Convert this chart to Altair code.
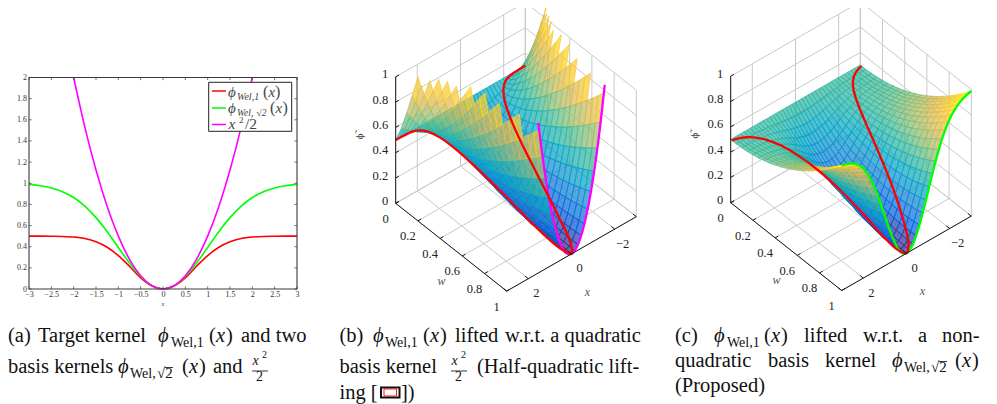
import altair as alt
import pandas as pd

alt.data_transformers.disable_max_rows()

N = None
# ---- panel (a) curves, x >= 0 half (symmetric about 0)
A_X = [0, .25, .5, .75, 1, 1.25, 1.5, 1.75, 2, 2.25, 2.5, 2.75, 3]
PHI_1 = [0, .030, .106, .215, .316, .395, .447, .477, .491, .497, .499, .5, .5]
PHI_R2 = [0, .031, .118, .245, .393, .542, .675, .784, .865, .920, .956, .977, .989]
QUAD = [0, .031, .125, .281, .5, .781, 1.125, 1.531, 2.0]
A_XTICKS = [-3, -2.5, -2, -1.5, -1, -.5, 0, .5, 1, 1.5, 2, 2.5, 3]
A_YTICKS = [0, .2, .4, .6, .8, 1, 1.2, 1.4, 1.6, 1.8, 2]

# ---- lifted curves: w along the red curves
RED_W_B = [1, .939, .779, .570, .368, .210, .105, .047, .018, .006, .002, .001, 0]
RED_W_C = [1, .969, .882, .755, .607, .458, .325, .216, .135, .080, .044, .023, .011]
PINK_X = [0, .25, .5, .75, 1, 1.25, 1.54]
PINK_Z = [0, .031, .125, .281, .5, .781, 1.186]

# ---- surfaces: columns x = 0 .. 3 (mirrored for negative x), rows w = 0 .. 1
S_X = [0, .15, .3, .45, .6, .75, .9, 1.05, 1.2, 1.35, 1.5, 1.65, 1.8, 1.95, 2.1, 2.25, 2.4, 2.55, 2.7, 2.85, 3]
S_W = [0, .05, .1, .15, .2, .25, .3, .35, .4, .45, .5, .55, .6, .65, .7, .75, .8, .85, .9, .95, 1]
Z_B = [
    [.5] * 21,
    [.400,.401,.402,.405,.409,.414,.420,.428,.436,.446,.456,.468,.481,.495,.510,.527,.544,.563,.582,.603,.625],
    [.335,.336,.340,.345,.353,.363,.376,.390,.407,.426,.448,.471,.497,.525,.556,.588,.623,.660,.700,.741,.785],
    [.283,.285,.290,.298,.310,.325,.344,.366,.391,.420,.452,.487,.526,.568,.614,.663,.715,.771,.830,.892,.958],
    [.239,.241,.248,.259,.275,.295,.320,.349,.383,.421,.464,.511,.563,.619,.680,.745,.815,.889,.968,1.051,1.139],
    [.202,.205,.213,.227,.247,.272,.303,.340,.382,.430,.483,.542,.607,.677,.753,.835,.922,1.015,1.113,N,N],
    [.169,.172,.183,.199,.223,.253,.291,.334,.385,.442,.507,.577,.655,.739,.831,.928,1.033,1.144,N,N,N],
    [.141,.145,.157,.176,.204,.239,.283,.334,.393,.460,.535,.617,.708,.806,.913,1.027,1.149,N,N,N,N],
    [.117,.121,.135,.157,.189,.229,.279,.337,.405,.481,.567,.661,.765,.877,.999,1.129,N,N,N,N,N],
    [.095,.100,.115,.140,.176,.221,.277,.343,.419,.505,.601,.707,.824,.950,1.087,N,N,N,N,N,N],
    [.077,.083,.100,.128,.167,.218,.280,.353,.437,.533,.640,.758,.887,1.028,1.180,N,N,N,N,N,N],
    [.061,.067,.086,.117,.160,.216,.284,.364,.457,.562,.680,.810,.952,1.107,N,N,N,N,N,N,N],
    [.047,.054,.074,.108,.155,.216,.290,.378,.479,.594,.722,.864,1.019,1.188,N,N,N,N,N,N,N],
    [.035,.042,.064,.101,.152,.218,.298,.393,.503,.627,.766,.920,1.088,N,N,N,N,N,N,N,N],
    [.025,.033,.057,.096,.151,.222,.309,.411,.529,.663,.813,.978,1.159,N,N,N,N,N,N,N,N],
    [.017,.025,.051,.093,.152,.228,.321,.430,.557,.700,.861,1.038,N,N,N,N,N,N,N,N,N],
    [.011,.020,.047,.092,.155,.236,.335,.452,.587,.740,.911,1.100,N,N,N,N,N,N,N,N,N],
    [.006,.015,.044,.092,.159,.245,.350,.474,.618,.780,.962,1.163,N,N,N,N,N,N,N,N,N],
    [.003,.013,.044,.094,.165,.256,.368,.499,.651,.823,1.016,N,N,N,N,N,N,N,N,N,N],
    [.001,.011,.044,.097,.172,.268,.386,.524,.685,.866,1.070,N,N,N,N,N,N,N,N,N,N],
    [0,.011,.045,.101,.180,.281,.405,.551,.720,.911,1.125,N,N,N,N,N,N,N,N,N,N],
]
Z_C = [
    [.5] * 21,
    [.451,.452,.453,.456,.459,.463,.468,.472,.477,.481,.485,.488,.491,.494,.496,.497,.498,.499,.500,.500,.500],
    [.405,.406,.409,.415,.422,.430,.438,.447,.456,.465,.473,.479,.485,.490,.494,.497,.499,.501,.502,.503,.504],
    [.361,.363,.368,.375,.386,.398,.411,.425,.438,.451,.462,.473,.481,.489,.495,.499,.503,.505,.507,.508,.509],
    [.320,.322,.329,.339,.353,.369,.387,.405,.423,.440,.455,.469,.480,.490,.498,.504,.509,.512,.515,.517,.518],
    [.281,.284,.292,.305,.322,.342,.364,.387,.409,.431,.450,.467,.482,.494,.504,.511,.517,.521,.525,.527,.528],
    [.245,.248,.258,.274,.295,.319,.345,.372,.399,.424,.448,.468,.486,.500,.512,.521,.528,.533,.537,.540,.542],
    [.211,.215,.226,.245,.269,.297,.328,.359,.391,.420,.447,.471,.492,.509,.523,.533,.541,.547,.552,.555,.557],
    [.180,.184,.198,.218,.246,.278,.313,.350,.385,.419,.450,.478,.501,.520,.536,.548,.558,.564,.570,.573,.576],
    [.151,.156,.171,.194,.225,.261,.301,.342,.382,.420,.455,.486,.512,.534,.552,.565,.576,.583,.589,.593,.596],
    [.125,.131,.147,.173,.208,.248,.292,.337,.382,.424,.463,.497,.526,.551,.570,.585,.597,.606,.612,.617,.620],
    [.101,.107,.125,.154,.192,.236,.284,.334,.383,.430,.472,.510,.542,.569,.591,.607,.620,.630,.637,.642,.645],
    [.080,.087,.106,.138,.179,.227,.280,.334,.388,.439,.485,.526,.561,.591,.614,.632,.646,.657,.664,.670,.673],
    [.061,.068,.090,.123,.168,.220,.277,.337,.394,.450,.500,.545,.582,.614,.640,.659,.675,.686,.694,.700,.704],
    [.045,.053,.076,.112,.161,.217,.278,.342,.404,.464,.518,.566,.606,.641,.668,.689,.706,.718,.727,.733,.737],
    [.031,.039,.064,.103,.155,.215,.281,.349,.416,.480,.537,.589,.633,.669,.699,.721,.739,.752,.762,.768,.773],
    [.020,.029,.055,.097,.152,.216,.286,.359,.430,.498,.560,.615,.662,.701,.732,.756,.775,.789,.799,.806,.811],
    [.011,.020,.048,.093,.151,.219,.294,.371,.447,.519,.585,.643,.693,.734,.768,.793,.813,.828,.839,.847,.852],
    [.005,.015,.045,.091,.154,.226,.305,.387,.467,.543,.613,.675,.727,.771,.806,.833,.855,.870,.882,.890,.895],
    [.001,.011,.043,.092,.158,.234,.317,.404,.488,.569,.642,.708,.763,.809,.847,.875,.898,.914,.926,.935,.941],
    [0,.011,.044,.096,.165,.245,.333,.424,.513,.598,.675,.744,.802,.851,.890,.920,.944,.961,.974,.983,.989],
]
PARULA = ["#352A87", "#0363E1", "#1485D4", "#06A7C6", "#38B99E", "#92BF73", "#D9BA56", "#FCCE2E", "#F9FB0E"]

# ---- layout (page pixels)
ORIGIN_B = (395.7, 203.3)
ORIGIN_C = (730.7, 202.7)
EX = (21.6, -12.4)   # per unit of (3 - x)
EW = (111.0, 87.8)
EZ = 126.5
LBL = "Liberation Serif"
SERIF = "Liberation Serif"

CX = alt.Scale(domain=[8, 989], range=[0, 981])
CY = alt.Scale(domain=[8, 404], range=[0, 396])
X_ = lambda f="sx": alt.X(f"{f}:Q", scale=CX, axis=None)
Y_ = lambda f="sy": alt.Y(f"{f}:Q", scale=CY, axis=None)


def proj(o, x, w, z):
    return (o[0] + (3 - x) * EX[0] + w * EW[0], o[1] + (3 - x) * EX[1] + w * EW[1] - z * EZ)


def parula(t):
    t = max(0, min(1, t)) * (len(PARULA) - 1)
    i = min(int(t), len(PARULA) - 2)
    f = t - i
    a, b = PARULA[i], PARULA[i + 1]
    out = "#"
    for k in (1, 3, 5):
        out += "%02x" % round(int(a[k:k + 2], 16) * (1 - f) + int(b[k:k + 2], 16) * f)
    return out


def surface(o, table, zmax):
    xs = [-v for v in S_X[:0:-1]] + S_X
    rows = [r[:0:-1] + r for r in table]
    quads = []
    for j in range(len(S_W) - 1):
        for i in range(len(xs) - 1):
            c = [(i, j), (i + 1, j), (i + 1, j + 1), (i, j + 1)]
            zs = [rows[b][a] for a, b in c]
            if any(v is None for v in zs):
                continue
            depth = (xs[i] + xs[i + 1]) / 2 * 12.4 + (S_W[j] + S_W[j + 1]) / 2 * 87.8
            quads.append((depth, c, zs))
    quads.sort(key=lambda q: q[0])
    recs = []
    for q, (d, c, zs) in enumerate(quads):
        col = parula(sum(zs) / 4 / zmax)
        for v, ((a, b), z) in enumerate(zip(c, zs)):
            sx, sy = proj(o, xs[a], S_W[b], z)
            recs.append({"sx": round(sx, 2), "sy": round(sy, 2), "q": q, "v": v, "c": col})
    return alt.Chart(pd.DataFrame(recs)).mark_line(
        interpolate="linear-closed", strokeWidth=0.8, fillOpacity=0.72, strokeOpacity=1
    ).encode(
        x=X_(), y=Y_(), detail="q:N", order="v:Q",
        fill=alt.Fill("c:N", scale=None), stroke=alt.Stroke("c:N", scale=None),
    )


def segs(items, color, width):
    recs = []
    for s, (a, b) in enumerate(items):
        recs.append({"sx": a[0], "sy": a[1], "s": s, "v": 0})
        recs.append({"sx": b[0], "sy": b[1], "s": s, "v": 1})
    return alt.Chart(pd.DataFrame(recs)).mark_line(color=color, strokeWidth=width).encode(
        x=X_(), y=Y_(), detail="s:N", order="v:Q")


W_T = [0, .2, .4, .6, .8, 1]
X_T = [2, 0, -2]
Z_T = [0, .2, .4, .6, .8, 1]


def frame(o):
    g = []
    p = lambda x, w, z: proj(o, x, w, z)
    for w in W_T:
        g.append((p(3, w, 0), p(-3, w, 0)))
        g.append((p(-3, w, 0), p(-3, w, 1)))
    for x in [3] + X_T + [-3]:
        g.append((p(x, 0, 0), p(x, 1, 0)))
        g.append((p(x, 0, 0), p(x, 0, 1)))
    for z in Z_T:
        g.append((p(3, 0, z), p(-3, 0, z)))
        g.append((p(-3, 0, z), p(-3, 1, z)))
    b = [(p(3, 0, 0), p(3, 0, 1)), (p(3, 0, 0), p(3, 1, 0)), (p(3, 1, 0), p(-3, 1, 0))]
    for w in W_T:
        b.append((p(3, w, 0), p(2.85, w, 0)))
    for x in [3] + X_T + [-3]:
        b.append((p(x, 1, 0), p(x, .97, 0)))
    for z in Z_T:
        b.append((p(3, 0, z), p(2.85, 0, z)))
    return segs(g, "#c9c9c9", 1), segs(b, "#1a1a1a", 1)


def curve3(o, xs, ws, zs, color, width=2.3):
    recs = []
    for i, (x, w, z) in enumerate(zip(xs, ws, zs)):
        sx, sy = proj(o, x, w, z)
        recs.append({"sx": sx, "sy": sy, "i": i})
    return alt.Chart(pd.DataFrame(recs)).mark_line(
        color=color, strokeWidth=width, interpolate="catmull-rom"
    ).encode(x=X_(), y=Y_(), order="i:Q")


def mirror(xs, ys):
    return [-v for v in xs[:0:-1]] + xs, ys[:0:-1] + ys


def text_layer(items, font=LBL, color="#222", style="normal", align="left", baseline="alphabetic", angle=0):
    df = pd.DataFrame(items, columns=["t", "sx", "sy", "s"])
    return alt.Chart(df).mark_text(
        font=font, color=color, fontStyle=style, align=align, baseline=baseline, angle=angle
    ).encode(x=X_(), y=Y_(), text="t:N", size=alt.Size("s:Q", scale=None))


def panel3(o, table, zmax, curves):
    grid, axes = frame(o)
    layers = [grid, surface(o, table, zmax)] + curves + [axes]
    lab = []
    for w in W_T:
        px, py = proj(o, 3, w, 0)
        lab.append(("%g" % w, px - 10, py + 15.5, 12.5))
    for x in X_T:
        px, py = proj(o, x, 1, 0)
        lab.append((("\u2212%g" % -x) if x < 0 else "%g" % x, px + 8, py + 14.5, 12.5))
    layers.append(text_layer(lab, baseline="middle", align="center"))
    zl = []
    for z in Z_T:
        px, py = proj(o, 3, 0, z)
        zl.append(("%g" % z, px - 7.5, py - 2.5, 12.5))
    layers.append(text_layer(zl, baseline="middle", align="right"))
    wx, wy = proj(o, 3, .62, 0)
    xx, xy = proj(o, .0, 1, 0)
    layers.append(text_layer([("w", wx - 23, wy + 23, 12), ("x", xx + 16, xy + 38, 12)],
                             style="italic", color="#555", baseline="middle", align="center"))
    layers.append(text_layer([("\u03d5\u0303", o[0] - 35.5, o[1] - 67, 11)], color="#444",
                             baseline="middle", align="center", angle=270))
    return layers


# ---------- panel (a)
AX = alt.Scale(domain=[-3, 3], range=[21, 289])
AY = alt.Scale(domain=[0, 2], range=[281, 69.5])
A_ = lambda: alt.X("x:Q", scale=AX, axis=None)
B_ = lambda: alt.Y("y:Q", scale=AY, axis=None)


def a_line(ys, color):
    xs, vs = mirror(A_X[:len(ys)], ys)
    return alt.Chart(pd.DataFrame({"x": xs, "y": vs})).mark_line(
        color=color, strokeWidth=1.6, interpolate="monotone").encode(x=A_(), y=B_())


a_axes = alt.Chart(pd.DataFrame({"x": [-3, 3], "y": [0, 2]})).mark_line(opacity=0).encode(
    x=alt.X("x:Q", scale=AX, axis=alt.Axis(
        values=A_XTICKS, format="~g", tickSize=0, domain=False, grid=False, title=None, offset=-115,
        labelFont=LBL, labelFontSize=8, labelColor="#333", labelPadding=1, labelFlush=False, labelOverlap=False)),
    y=alt.Y("y:Q", scale=AY, axis=alt.Axis(
        values=A_YTICKS, format="~g", tickSize=0, domain=False, grid=False, title=None, offset=-21,
        labelFont=LBL, labelFontSize=8, labelColor="#333", labelPadding=2.5, labelOverlap=False)),
)
a_frame = alt.Chart(pd.DataFrame({"x": [-3], "x2": [3], "y": [0], "y2": [2]})).mark_rect(
    fillOpacity=0, stroke="#3a3a3a", strokeWidth=1.1
).encode(x=A_(), x2="x2:Q", y=B_(), y2="y2:Q")

tk = []
for v in A_XTICKS:
    tk += [{"x": v, "x2": v, "y": 0, "y2": .025}, {"x": v, "x2": v, "y": 2, "y2": 1.975}]
for v in A_YTICKS:
    tk += [{"x": -3, "x2": -2.94, "y": v, "y2": v}, {"x": 3, "x2": 2.94, "y": v, "y2": v}]
a_ticks = alt.Chart(pd.DataFrame(tk)).mark_rule(color="#3a3a3a", strokeWidth=.7).encode(
    x=A_(), x2="x2:Q", y=B_(), y2="y2:Q")


def box(x0, x1, y0, y1, fill, stroke, sw=1.0):
    df = pd.DataFrame({"sx": [x0], "sx2": [x1], "sy": [y0], "sy2": [y1]})
    kw = {"fill": fill} if fill else {"fillOpacity": 0}
    if stroke:
        kw.update(stroke=stroke, strokeWidth=sw)
    return alt.Chart(df).mark_rect(**kw).encode(x=X_(), x2="sx2:Q", y=Y_(), y2="sy2:Q")


def hlines(items, color, width=1.0):
    return segs([((a, y), (b, y)) for a, b, y in items], color, width)


legend_box = box(208.7, 291.7, 82.3, 131.3, "white", "#222", 1.0)
legend_lines = [hlines([(212, 226, 91)], "#ff0000", 1.5), hlines([(212, 226, 108)], "#00ff00", 1.5),
                hlines([(212, 226, 124.5)], "#ff00ff", 1.5)]
legend_reg = [("(", 263, 97, 16), (")", 275, 97, 16), ("(", 270, 113, 16), (")", 282.5, 113, 16),
              ("2", 239, 123, 9), ("/2", 245, 129, 15.5)]
legend_it = [("\u03d5", 228, 97, 15), ("Wel,1", 237, 100, 10), ("x", 268.5, 97, 15),
             ("\u03d5", 228, 113, 15), ("Wel,", 237, 116, 9.5), ("\u221a2", 256.5, 116, 9.5), ("x", 275.5, 113, 15),
             ("x", 228.5, 129, 15.5)]

# ---------- captions (page pixels, baselines)
CAP = 20.5
SUB = 14
cap_reg = [
    ("(a)", 8, 342, CAP), ("Target kernel", 38, 342, CAP), ("(", 209, 342, CAP), (")", 226, 342, CAP),
    ("and two", 241, 342, CAP), ("Wel,1", 171, 347, SUB),
    ("basis kernels", 8, 373, CAP), ("Wel,", 130, 378, SUB), ("\u221a2", 157, 378, SUB + 1),
    ("(", 182, 373, CAP), (")", 199, 373, CAP), ("and", 213, 373, CAP),
    ("2", 262, 358, 10), ("2", 256, 381, SUB),
    ("(b)", 339.5, 342, CAP), ("Wel,1", 385, 347, SUB), ("(", 423, 342, CAP), (")", 440, 342, CAP),
    ("lifted", 455, 342, CAP), ("w.r.t. a quadratic", 505, 342, CAP),
    ("basis kernel", 339.5, 373, CAP), ("2", 461, 358, 10), ("2", 455, 381, SUB),
    ("(Half-quadratic lift-", 477, 373, CAP), ("ing [", 339.5, 399, CAP), ("])", 401, 399, CAP),
    ("(c)", 675, 342, CAP), ("Wel,1", 727, 347, SUB), ("(", 764, 342, CAP), (")", 781, 342, CAP),
    ("lifted", 804, 342, CAP), ("w.r.t.", 863, 342, CAP), ("a", 918, 342, CAP), ("non-", 942, 342, CAP),
    ("quadratic", 675, 367, CAP), ("basis", 768, 367, CAP), ("kernel", 825, 367, CAP),
    ("Wel,", 904, 372, SUB), ("\u221a2", 931, 372, SUB + 1), ("(", 955, 367, CAP), (")", 972, 367, CAP),
    ("(Proposed)", 675, 392, CAP),
]
cap_it = [
    ("\u03d5", 158, 342, CAP), ("x", 216, 342, CAP), ("\u03d5", 118, 373, CAP), ("x", 189, 373, CAP),
    ("x", 252.5, 365, SUB), ("\u03d5", 373, 342, CAP), ("x", 430, 342, CAP), ("x", 451.5, 365, SUB),
    ("\u03d5", 714, 342, CAP), ("x", 771, 342, CAP), ("\u03d5", 892, 367, CAP), ("x", 962, 367, CAP),
]
cap_bars = hlines([(252, 268, 371), (451, 467, 371), (165, 173, 367.5), (939, 947, 361.5)], "#222", 0.9)
cite_outer = box(381, 399.5, 387.5, 397.5, None, "#111", 2.0)
cite_red = box(384, 396.5, 389, 396, None, "#ff0000", 0.9)

# ---------- assemble
q_x, q_y = mirror(PINK_X, PINK_Z)
fx, red_b_w = mirror(A_X, RED_W_B)
fx, red_c_w = mirror(A_X, RED_W_C)
fx, red_z = mirror(A_X, PHI_1)
fx, green_z = mirror(A_X, PHI_R2)

layers = [a_axes, a_line(PHI_1, "#ff0000"), a_line(PHI_R2, "#00ff00"), a_line(QUAD, "#ff00ff"), a_frame, a_ticks,
          legend_box] + legend_lines + [
    text_layer(legend_reg, color="#444"), text_layer(legend_it, color="#444", style="italic"),
    text_layer([("x", 163, 306, 6.5)], style="italic", color="#444", align="center"),
]
layers += panel3(ORIGIN_B, Z_B, 1.2, [
    curve3(ORIGIN_B, q_x[::-1], [1] * len(q_x), q_y, "#ff00ff"),
    curve3(ORIGIN_B, fx, red_b_w, red_z, "#ff0000"),
])
layers += panel3(ORIGIN_C, Z_C, 1.0, [
    curve3(ORIGIN_C, fx, [1] * len(fx), green_z, "#00ff00"),
    curve3(ORIGIN_C, fx, red_c_w, red_z, "#ff0000"),
])
layers += [text_layer(cap_reg, font=SERIF, color="#111"),
           text_layer(cap_it, font=SERIF, color="#111", style="italic"),
           cap_bars, cite_outer, cite_red]

chart = alt.layer(*layers).resolve_scale(x="independent", y="independent").resolve_axis(
    x="independent", y="independent"
).properties(
    width=981, height=396, padding=0, autosize=alt.AutoSizeParams(type="none"), background="white"
).configure_view(stroke=None)

chart.save("out.html", embed_options={"renderer": "svg", "actions": False})
